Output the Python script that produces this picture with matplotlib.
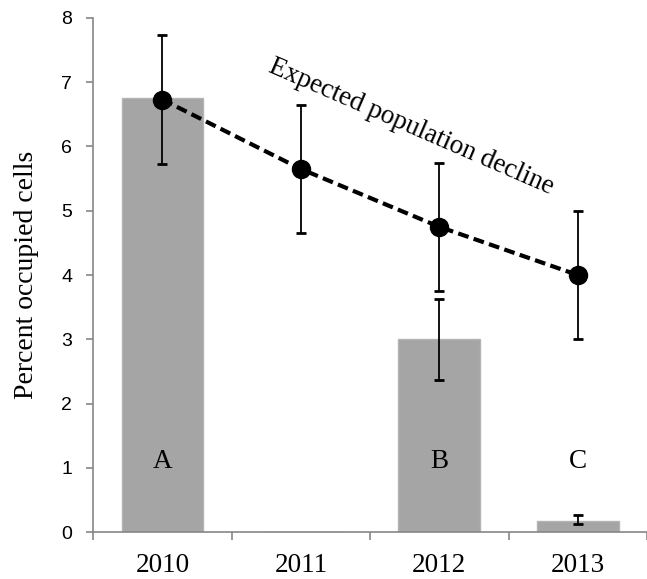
import matplotlib
matplotlib.use("Agg")
import matplotlib.pyplot as plt
import numpy as np

# observed occupancy (bars) and expected decline (dashed line)
years = ["2010", "2011", "2012", "2013"]
observed = [6.75, 0.0, 3.0, 0.18]
obs_err_lo = [None, None, 0.63, 0.06]
obs_err_hi = [None, None, 0.62, 0.08]
expected = [6.73, 5.65, 4.75, 4.0]
exp_err = [1.0, 1.0, 1.0, 1.0]
group_labels = ["A", "", "B", "C"]

serif = "Liberation Serif"

fig = plt.figure(figsize=(6.47, 5.79), dpi=100)
ax = fig.add_axes([0.144, 0.081, 0.856, 0.888])

x = np.arange(len(years))
ax.bar(x, observed, width=0.59, color="#a5a5a5", edgecolor="#b4b4b4", lw=1.0, zorder=1)

# error bars on observed bars (only where present)
idx = [i for i in range(len(years)) if obs_err_lo[i] is not None]
ax.errorbar(x[idx], [observed[i] for i in idx],
            yerr=[[obs_err_lo[i] for i in idx], [obs_err_hi[i] for i in idx]],
            fmt="none", ecolor="black", elinewidth=1.3, capsize=3.8, capthick=2.0, zorder=2)

ax.errorbar(x, expected, yerr=exp_err, fmt="none", ecolor="black",
            elinewidth=1.3, capsize=3.8, capthick=2.0, zorder=3)
ax.plot(x, expected, "--", color="black", lw=3.0, dashes=(2.6, 1.3), zorder=4)
ax.plot(x, expected, "o", color="black", ms=13, zorder=5)

for i, lab in enumerate(group_labels):
    if lab:
        ax.text(x[i], 1.1, lab, ha="center", va="center", fontsize=19.5, family=serif)

ax.text(1.8, 6.3, "Expected population decline", rotation=-23.5,
        ha="center", va="center", fontsize=19.5, family=serif,
        rotation_mode="anchor")

ax.set_xlim(-0.5, 3.5)
ax.set_ylim(0, 8)
ax.set_yticks(range(0, 9))
ax.set_xticks(x)
ax.set_xticklabels(years, family=serif, fontsize=19.5)
ax.set_xticks(np.arange(-0.5, 3.6, 1.0), minor=True)
ax.tick_params(axis="x", which="major", length=0, pad=15)
ax.tick_params(axis="x", which="minor", length=6, color="#868686", width=1.2, direction="out")
ax.tick_params(axis="y", length=5, color="#868686", width=1.2, labelsize=14, pad=10)
for lab in ax.get_yticklabels():
    lab.set_family("Liberation Sans")

for s in ["top", "right"]:
    ax.spines[s].set_visible(False)
for s in ["left", "bottom"]:
    ax.spines[s].set_color("#868686")
    ax.spines[s].set_linewidth(1.2)

ax.set_ylabel("Percent occupied cells", family=serif, fontsize=20, labelpad=16)

fig.savefig("out.png", dpi=100)
